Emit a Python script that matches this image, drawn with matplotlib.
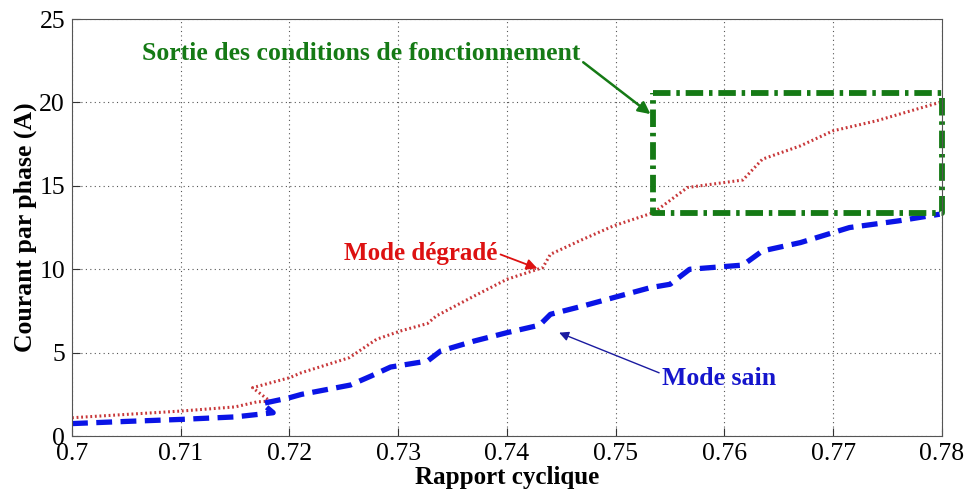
import numpy as np
import matplotlib
matplotlib.use('Agg')
import matplotlib.pyplot as plt

# Mode sain (blue dashed)
x_sain = [0.700, 0.705, 0.710, 0.715, 0.7185, 0.7175, 0.7200, 0.7211, 0.7256, 0.7275,
          0.7293, 0.7327, 0.7339, 0.7370, 0.7400, 0.7430, 0.7440, 0.7470, 0.7498, 0.7532,
          0.7550, 0.7568, 0.7617, 0.7635, 0.7670, 0.7700, 0.7715, 0.7760, 0.7798]
y_sain = [0.75, 0.88, 1.0, 1.15, 1.40, 1.95, 2.3, 2.5, 3.06, 3.6,
          4.14, 4.5, 5.1, 5.7, 6.2, 6.65, 7.3, 7.8, 8.3, 8.9,
          9.1, 10.0, 10.25, 11.1, 11.6, 12.2, 12.5, 12.9, 13.3]

# Mode degrade (red dotted)
x_deg = [0.700, 0.705, 0.710, 0.715, 0.7170, 0.7182, 0.7166, 0.7200, 0.7211, 0.7255,
         0.7280, 0.7302, 0.7327, 0.7335, 0.7370, 0.7400, 0.7433, 0.7440, 0.7470, 0.7498,
         0.7535, 0.7566, 0.7617, 0.7635, 0.7670, 0.7700, 0.7740, 0.7798]
y_deg = [1.1, 1.3, 1.5, 1.75, 2.05, 2.1, 2.9, 3.5, 3.8, 4.7,
         5.8, 6.3, 6.75, 7.2, 8.4, 9.4, 10.1, 10.9, 11.8, 12.6,
         13.4, 14.9, 15.35, 16.6, 17.4, 18.3, 18.9, 20.0]

# zone "sortie des conditions"
box_x = [0.7534, 0.78, 0.78, 0.7534, 0.7534]
box_y = [20.55, 20.55, 13.35, 13.35, 20.55]

xticks = [0.7, 0.71, 0.72, 0.73, 0.74, 0.75, 0.76, 0.77, 0.78]
xticklabels = ['0.7', '0.71', '0.72', '0.73', '0.74', '0.75', '0.76', '0.77', '0.78']
yticks = [0, 5, 10, 15, 20, 25]

serif = ['Liberation Serif', 'DejaVu Serif']

fig = plt.figure(figsize=(9.68, 4.95), dpi=100)
ax = fig.add_axes([0.0744, 0.119, 0.8986, 0.8426])

ax.plot(x_deg, y_deg, color='#c8383a', linestyle=(0, (0.6, 0.9)), linewidth=2.2)
ax.plot(x_sain, y_sain, color='#0a14e6', linestyle=(0, (3, 1.6)), linewidth=3.8)
ax.plot(box_x, box_y, color='#157a15', linestyle=(0, (3, 1, 0.6, 1)), linewidth=4.2,
        clip_on=False)

ax.set_xlim(0.7, 0.78)
ax.set_ylim(0, 25)
ax.set_xticks(xticks)
ax.set_xticklabels(xticklabels)
ax.set_yticks(yticks)
ax.grid(True, linestyle=(0, (1, 3)), color='#555555', linewidth=0.8)
ax.tick_params(direction='in', labelsize=18.5, length=6, color='#333333')
for lab in ax.get_xticklabels() + ax.get_yticklabels():
    lab.set_family(serif)
ax.tick_params(axis='x', pad=5)
ax.tick_params(axis='y', pad=5)
for s in ax.spines.values():
    s.set_color('#555555')

ax.set_xlabel('Rapport cyclique', family=serif, fontweight='bold', fontsize=18, labelpad=1)
ax.set_ylabel('Courant par phase (A)', family=serif, fontweight='bold', fontsize=18.5, labelpad=2)

ax.annotate('Sortie des conditions de fonctionnement', xy=(0.7532, 19.3), xytext=(0.7266, 22.95),
            ha='center', va='center', family=serif, fontweight='bold', fontsize=18.5,
            color='#157a15',
            arrowprops=dict(arrowstyle='-|>', color='#157a15', lw=1.8, mutation_scale=18,
                            shrinkA=0, shrinkB=0, relpos=(1.0, 0.2)))
ax.annotate('Mode dégradé', xy=(0.7428, 10.05), xytext=(0.7321, 10.95),
            ha='center', va='center', family=serif, fontweight='bold', fontsize=18,
            color='#dd1111',
            arrowprops=dict(arrowstyle='-|>', color='#dd1111', lw=1.3, mutation_scale=16,
                            shrinkA=0, shrinkB=0, relpos=(1.0, 0.5)))
ax.annotate('Mode sain', xy=(0.7448, 6.2), xytext=(0.7595, 3.45),
            ha='center', va='center', family=serif, fontweight='bold', fontsize=18.5,
            color='#1515cc',
            arrowprops=dict(arrowstyle='-|>', color='#1a1aa0', lw=1.0, mutation_scale=14,
                            shrinkA=0, shrinkB=0, relpos=(0.0, 0.7)))

fig.savefig('out.png', dpi=100)
